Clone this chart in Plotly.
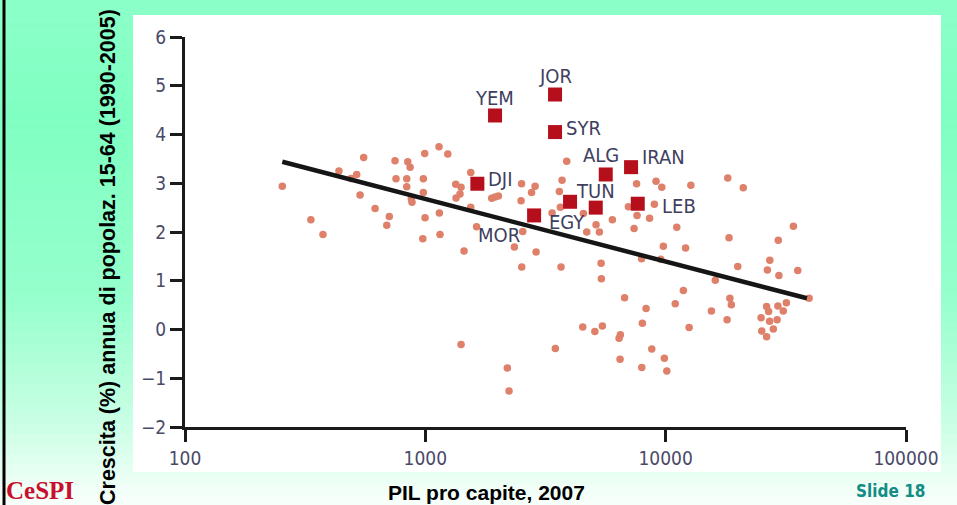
import math
import plotly.graph_objects as go

# ---------------- data ----------------
gdp = [254, 437, 491, 518, 554, 535, 618, 708, 691, 334,
       375, 748, 755, 845, 864, 837, 837, 874, 880, 994,
       981, 981, 997, 1140, 1240, 1144, 1151, 976, 1545, 1338,
       1408, 1394, 1342, 1545, 1889, 1950, 2013, 1634, 1449, 2514,
       2862, 2767, 2502, 2543, 2347, 2889, 2519, 1408, 2194, 2230,
       3876, 3706, 3611, 3646, 3368, 4546, 3670, 3475, 4696, 5133,
       5300, 6000, 6997, 7603, 8570, 7388, 8974, 7567, 9120, 9634,
       12730, 18130, 21030, 11120, 9781, 12100, 7938, 9541, 5386, 5401,
       6745, 8287, 7998, 11850, 10960, 16090, 15500, 12520, 4519, 5074,
       5453, 6479, 6399, 6460, 8754, 7954, 9876, 10110, 18350, 29420,
       34000, 27120, 19950, 26500, 29590, 35450, 18500, 18760, 18010, 26300,
       26810, 29310, 31790, 30860, 24950, 27070, 29090, 25110, 28050, 26300, 39520]
growth = [2.94, 3.25, 3.10, 3.18, 3.53, 2.76, 2.48, 2.32, 2.14, 2.25,
          1.95, 3.46, 3.09, 3.44, 3.33, 3.09, 2.93, 2.68, 2.61, 3.61,
          3.09, 2.81, 2.29, 3.75, 3.60, 2.39, 1.95, 1.86, 3.22, 2.98,
          2.92, 2.78, 2.70, 2.51, 2.69, 2.72, 2.74, 2.11, 1.61, 2.99,
          2.94, 2.81, 2.64, 2.01, 1.69, 1.59, 1.28, -0.31, -0.79, -1.26,
          3.45, 3.06, 2.83, 2.51, 2.39, 2.38, 1.28, -0.39, 2.00, 2.15,
          2.00, 2.25, 2.52, 2.34, 2.28, 2.07, 2.57, 2.99, 3.04, 2.92,
          2.96, 3.11, 2.91, 2.10, 1.71, 1.67, 1.45, 1.44, 1.36, 1.04,
          0.65, 0.43, 0.13, 0.80, 0.53, 1.01, 0.38, 0.04, 0.05, -0.04,
          0.07, -0.11, -0.18, -0.61, -0.40, -0.78, -0.59, -0.85, 1.88, 1.83,
          2.12, 1.42, 1.29, 1.22, 1.11, 1.21, 0.64, 0.51, 0.20, 0.47,
          0.37, 0.48, 0.55, 0.38, 0.24, 0.17, 0.20, -0.03, 0.01, -0.15, 0.64]

mena_names = ["JOR", "YEM", "SYR", "DJI", "ALG", "IRAN", "TUN", "EGY", "MOR", "LEB"]
mena_gdp = [3465, 1950, 3465, 1646, 5633, 7178, 5118, 4001, 2835, 7654]
mena_growth = [4.82, 4.39, 4.05, 2.99, 3.18, 3.33, 2.50, 2.62, 2.34, 2.58]

trend_gdp = [254, 38700]
trend_growth = [3.44, 0.64]

x_tickvals = [100, 1000, 10000, 100000]
x_ticktext = ["100", "1000", "10000", "100000"]
y_tickvals = [-2, -1, 0, 1, 2, 3, 4, 5, 6]
y_ticktext = ["\u22122", "\u22121", "0", "1", "2", "3", "4", "5", "6"]

x_title = "PIL pro capite, 2007"
y_title = "Crescita (%) annua di popolaz. 15-64 (1990-2005)"

# ---------------- layout geometry ----------------
W, H = 957, 505
L, R, T, B = 185, 51, 37, 78
PW, PH = W - L - R, H - T - B


def px(x):
    return (x - L) / PW


def py(y):
    return 1 - (y - T) / PH


# label placement (xanchor, xshift, yshift)
label_pos = {
    "JOR": ("center", 0, 19),
    "YEM": ("center", -1, 17),
    "SYR": ("left", 9, 4),
    "DJI": ("left", 9, 5),
    "ALG": ("center", -5, 19),
    "IRAN": ("left", 9, 10),
    "TUN": ("center", 0, 17),
    "EGY": ("center", -3, -20),
    "MOR": ("center", -35, -20),
    "LEB": ("left", 22, -2),
}

NARROW = "Liberation Sans Narrow, Arial Narrow, DejaVu Sans Condensed, sans-serif"
BOLD = "Liberation Sans, Arial, sans-serif"
LABEL_COLOR = "#3E405E"

fig = go.Figure()

fig.add_trace(go.Scatter(
    x=gdp, y=growth, mode="markers",
    marker=dict(size=7.5, color="#DE806A", line=dict(width=0)),
    showlegend=False, hoverinfo="skip"))

fig.add_trace(go.Scatter(
    x=trend_gdp, y=trend_growth, mode="lines",
    line=dict(color="#151515", width=4.5),
    showlegend=False, hoverinfo="skip"))

fig.add_trace(go.Scatter(
    x=mena_gdp, y=mena_growth, mode="markers",
    marker=dict(symbol="square", size=14, color="#B50F1C", line=dict(width=0)),
    showlegend=False, hoverinfo="skip"))

annotations = []
for name, gx, gy in zip(mena_names, mena_gdp, mena_growth):
    xa, xs, ys = label_pos[name]
    annotations.append(dict(
        x=math.log10(gx), y=gy, xref="x", yref="y", text=name, showarrow=False,
        xanchor=xa, yanchor="middle", xshift=xs, yshift=ys,
        font=dict(family=NARROW, size=20, color=LABEL_COLOR)))

# axis titles & slide texts
annotations.append(dict(
    x=px(486), y=py(492), xref="paper", yref="paper", text="<b>" + x_title + "</b>",
    showarrow=False, xanchor="center", yanchor="middle",
    font=dict(family=BOLD, size=21, color="#000000")))
annotations.append(dict(
    x=px(108), y=py(257), xref="paper", yref="paper", text="<b>" + y_title + "</b>",
    showarrow=False, xanchor="center", yanchor="middle", textangle=-90,
    font=dict(family=BOLD, size=21.5, color="#000000")))
annotations.append(dict(
    x=px(4), y=py(490), xref="paper", yref="paper", text="<b>CeSPI</b>",
    showarrow=False, xanchor="left", yanchor="middle",
    font=dict(family="Liberation Serif, Times New Roman, serif", size=25, color="#C8102E")))
annotations.append(dict(
    x=px(890), y=py(491), xref="paper", yref="paper", text="<b>Slide 18</b>",
    showarrow=False, xanchor="center", yanchor="middle",
    font=dict(family=NARROW, size=17, color="#138C86")))

# background: vertical gradient strips + white panel
shapes = []
stops = [(0, (140, 255, 200)), (120, (128, 255, 194)), (300, (150, 255, 205)),
         (420, (200, 255, 228)), (505, (250, 255, 252))]
N = 50
for i in range(N):
    y0 = H * i / N
    y1 = H * (i + 1) / N
    ym = (y0 + y1) / 2
    for (a, ca), (b, cb) in zip(stops[:-1], stops[1:]):
        if a <= ym <= b:
            t = (ym - a) / (b - a)
            c = tuple(int(round(ca[k] + (cb[k] - ca[k]) * t)) for k in range(3))
            break
    shapes.append(dict(type="rect", xref="paper", yref="paper", layer="below",
                       x0=px(0), x1=px(W), y0=py(y1 + 0.5), y1=py(y0),
                       fillcolor="rgb(%d,%d,%d)" % c, line=dict(width=0)))
shapes.append(dict(type="rect", xref="paper", yref="paper", layer="below",
                   x0=px(133), x1=px(941), y0=py(472), y1=py(15),
                   fillcolor="white", line=dict(width=0)))
shapes.append(dict(type="line", xref="paper", yref="paper",
                   x0=px(4), x1=px(4), y0=py(0), y1=py(H),
                   line=dict(color="black", width=3)))

fig.update_layout(
    width=W, height=H,
    margin=dict(l=L, r=R, t=T, b=B, pad=0),
    paper_bgcolor="white", plot_bgcolor="rgba(0,0,0,0)",
    annotations=annotations, shapes=shapes,
    xaxis=dict(type="log", range=[2, 5], tickvals=x_tickvals, ticktext=x_ticktext,
               showgrid=False, zeroline=False, showline=True, linecolor="#1a1a1a",
               linewidth=3, ticks="outside", ticklen=12, tickwidth=3, tickcolor="#1a1a1a",
               tickfont=dict(family=NARROW, size=19, color="#4A4A68")),
    yaxis=dict(range=[-2, 6], tickvals=y_tickvals, ticktext=y_ticktext,
               showgrid=False, zeroline=False, showline=True, linecolor="#1a1a1a",
               linewidth=3, ticks="outside", ticklen=12, tickwidth=3, tickcolor="#1a1a1a",
               tickfont=dict(family=NARROW, size=19, color="#4A4A68")),
)

fig.write_html(
    "out.html",
    config={"displayModeBar": False},
    post_script="document.body.style.margin='0';document.body.style.padding='0';"
                "document.body.style.overflow='hidden';")
